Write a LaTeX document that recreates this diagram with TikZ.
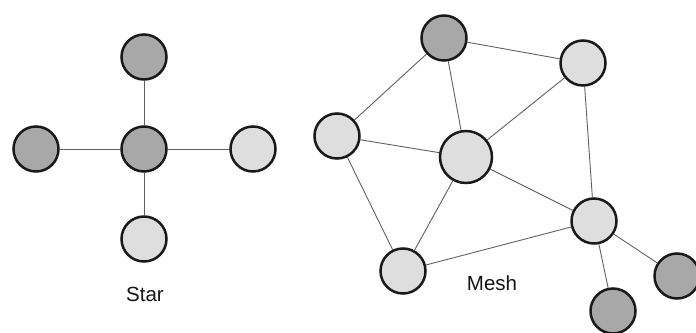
\documentclass[tikz,border=0pt]{standalone}
\usepackage{fontspec}
\setmainfont{Liberation Sans}
\usetikzlibrary{calc}

\begin{document}
\begin{tikzpicture}[x=1pt,y=-1pt,
  dark/.style={circle,draw=black!90,line width=2.5pt,fill=black!34,minimum size=45pt,inner sep=0pt},
  light/.style={dark,fill=black!13},
  link/.style={draw=black!62,line width=0.9pt},
  caption/.style={font=\fontsize{20.5}{24}\selectfont,text=black!92}]
\useasboundingbox (0,0) rectangle (696,332);

% star
\node[dark]  (s0) at (144,149) {};
\node[dark]  (s1) at (144,57)  {};
\node[dark]  (s2) at (36,149)  {};
\node[light] (s3) at (253,149) {};
\node[light] (s4) at (144,239) {};
\foreach \n in {s1,s2,s3,s4} \draw[link] (s0) -- (\n);
\node[caption] (star) at (145,294) {Star};

% mesh
\node[dark]  (m1) at (444,38)  {};
\node[light] (m2) at (583,63)  {};
\node[light] (m3) at (337,136) {};
\node[light,minimum size=52pt] (m0) at (466,157) {};
\node[light] (m4) at (594,221) {};
\node[light] (m5) at (403,271) {};
\node[dark]  (m6) at (677,276) {};
\node[dark]  (m7) at (613,311) {};
\foreach \a/\b in {m1/m2,m1/m3,m1/m0,m2/m0,m2/m4,m3/m0,m3/m5,m0/m5,m0/m4,m5/m4,m4/m6,m4/m7}
  \draw[link] (\a) -- (\b);
\node[caption] (mesh) at (492,283) {Mesh};

\end{tikzpicture}
\end{document}
